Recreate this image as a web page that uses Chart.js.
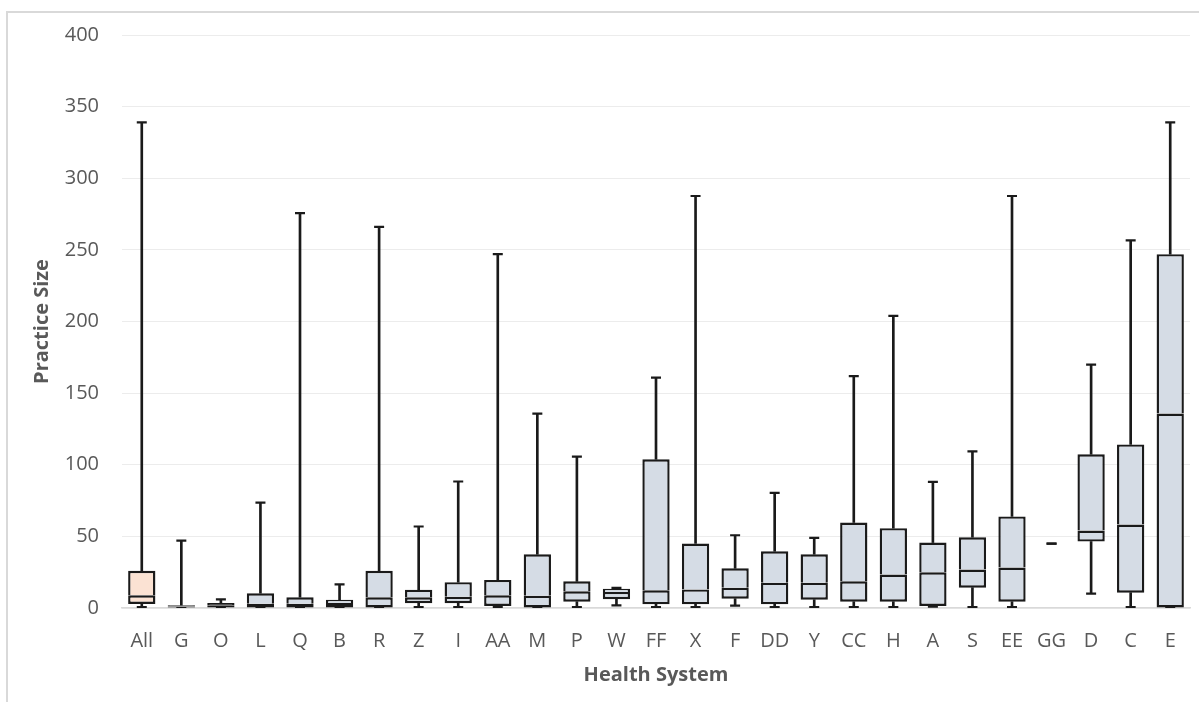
<!DOCTYPE html>
<html>
<head>
<meta charset="utf-8">
<script src="https://cdn.jsdelivr.net/npm/chart.js@4/dist/chart.umd.min.js"></script>
<style>
  html, body { margin: 0; padding: 0; background: #ffffff; overflow: hidden; }
  #frame { position: absolute; left: 6px; top: 11px; width: 1300px; height: 800px;
           border-left: 2px solid #d9d9d9; border-top: 2px solid #d9d9d9; }
  #wrap { position: absolute; left: 0; top: 0; width: 1199px; height: 702px; }
</style>
</head>
<body>
<div id="frame"></div>
<div id="wrap"><canvas id="c" width="1199" height="702"></canvas></div>
<script>
// Health systems (x categories)
const categories = ['All','G','O','L','Q','B','R','Z','I','AA','M','P','W','FF','X','F','DD','Y','CC','H','A','S','EE','GG','D','C','E'];
// Box plot statistics (practice size)
const minVals    = [0.7, 0,   0,   0,    0,     0,    0,    0.7,  0.7,  0.7,  0,     0.7,  1.9,  0.7,  0.7,  1.6,  0.7,  0.7,  0.7,  0.7,  1.0,  0.7,  0.7,  45, 10,  0.7,  0];
const q1Vals     = [2.8, 0,   0,   0,    0,     0,    0,    3.3,  3.3,  1.4,  0,     4.4,  6.1,  2.6,  2.6,  6.5,  2.6,  5.8,  4.4,  4.4,  1.4,  14.2, 4.4,  45, 46.4, 10.7, 0];
const medianVals = [8.9, 1,   1.5, 3,    3,     3.5,  7.5,  7.5,  7.9,  8.9,  8.6,   11.7, 11.2, 12.4, 13,   14.2, 17.7, 17.7, 18.6, 23.3, 24.9, 26.8, 28.2, 45, 54.1, 58.3, 135.7];
const q3Vals     = [26,  2,   3.5, 10.3, 7.5,   5.8,  26,   12.8, 18,   19.6, 37.5,  18.6, 13.5, 103.8, 45,  27.7, 39.6, 37.5, 59.7, 55.7, 45.7, 49.4, 63.9, 45, 107.3, 114.2, 247];
const maxVals    = [339, 47,  6,   73.5, 275.6, 16.5, 266,  56.9, 88.3, 247,  135.7, 105.7, 14,  160.8, 287.6, 50.8, 80.4, 49, 161.9, 203.9, 88.1, 109.4, 287.6, 45, 169.9, 256.6, 339];
// Y axis ticks
const yTicks = [0, 50, 100, 150, 200, 250, 300, 350, 400];

const INK = '#1a1a1a';
const TEXT = '#595959';
const FONT = "'Open Sans', 'DejaVu Sans', sans-serif";
// very thin boxes render as solid ink, as in the reference
const boxFill = categories.map((c, i) => (q3Vals[i] - q1Vals[i]) < 4 ? INK : (i === 0 ? '#fbe2d3' : '#d5dce5'));

const boxLow  = categories.map((c, i) => q3Vals[i] > q1Vals[i] ? [q1Vals[i], medianVals[i]] : null);
const boxHigh = categories.map((c, i) => q3Vals[i] > q1Vals[i] ? [medianVals[i], q3Vals[i]] : null);
const whiskLow  = categories.map((c, i) => [minVals[i], q1Vals[i]]);
const whiskHigh = categories.map((c, i) => [q3Vals[i], maxVals[i]]);

const boxCommon = {
  type: 'bar', grouped: false, barPercentage: 0.69, categoryPercentage: 1,
  backgroundColor: boxFill, borderColor: INK, borderWidth: 2.4, order: 1
};
const whiskCommon = {
  type: 'bar', grouped: false, barThickness: 2, backgroundColor: INK, borderWidth: 0, order: 3
};
const capCommon = {
  type: 'line', showLine: false, pointStyle: 'line', pointRadius: 5, pointHoverRadius: 5,
  pointBorderWidth: 2.2, pointBorderColor: INK, borderColor: INK, order: 2
};

new Chart(document.getElementById('c'), {
  type: 'bar',
  data: {
    labels: categories,
    datasets: [
      Object.assign({ label: 'Lower whisker', data: whiskLow }, whiskCommon),
      Object.assign({ label: 'Upper whisker', data: whiskHigh }, whiskCommon),
      Object.assign({ label: 'Q1-Median', data: boxLow, borderSkipped: false }, boxCommon),
      Object.assign({ label: 'Median-Q3', data: boxHigh, borderSkipped: 'start' }, boxCommon),
      Object.assign({ label: 'Max', data: maxVals }, capCommon),
      Object.assign({ label: 'Min', data: minVals }, capCommon)
    ]
  },
  options: {
    responsive: false,
    animation: false,
    devicePixelRatio: 1,
    layout: { padding: { left: 0, right: 9, top: 35, bottom: 0 } },
    plugins: { legend: { display: false }, tooltip: { enabled: false } },
    scales: {
      x: {
        type: 'category',
        offset: true,
        grid: { display: false, drawTicks: false },
        border: { display: true, color: '#d9d9d9', width: 1.5 },
        ticks: { color: TEXT, font: { family: FONT, size: 20 }, padding: 21, maxRotation: 0, autoSkip: false },
        title: { display: true, text: 'Health System', color: TEXT,
                 font: { family: FONT, size: 20, weight: 'bold' }, padding: { top: 0, bottom: 15 } },
        afterFit: (s) => { s.height = 94; }
      },
      y: {
        min: 0, max: 400,
        afterBuildTicks: (s) => { s.ticks = yTicks.map(v => ({ value: v })); },
        grid: { color: '#ececec', lineWidth: 1, drawTicks: false },
        border: { display: false },
        ticks: { color: TEXT, font: { family: FONT, size: 20 }, padding: 23 },
        title: { display: true, text: 'Practice Size', color: TEXT,
                 font: { family: FONT, size: 20, weight: 'bold' }, padding: { top: 30, bottom: 0 } },
        afterFit: (s) => { s.width = 122; }
      }
    }
  }
});
</script>
</body>
</html>
